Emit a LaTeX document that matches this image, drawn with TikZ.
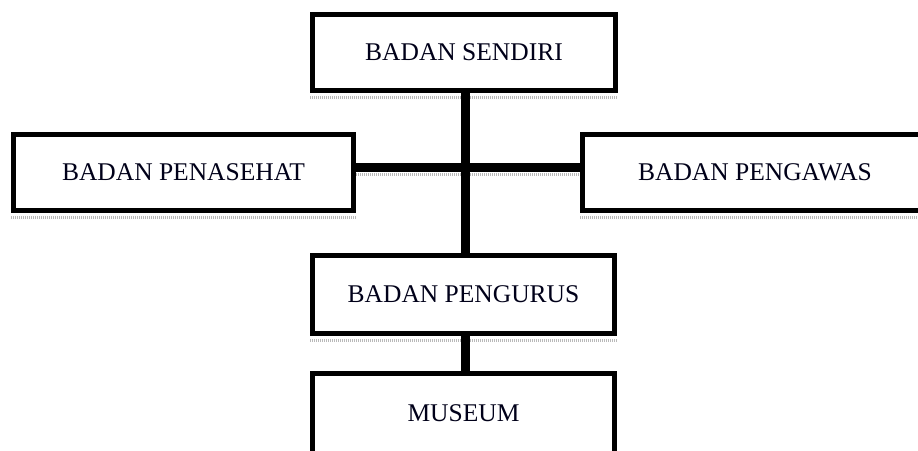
\documentclass[tikz,border=0pt]{standalone}
\usepackage{fontspec}
\setmainfont{Liberation Serif}
\begin{document}
\begin{tikzpicture}[x=1pt,y=1pt,
  orgbox/.style={draw=black, line width=5pt, fill=white, inner sep=0pt,
    font=\fontsize{25.5}{30}\selectfont, text=black!90!blue},
  link/.style={line width=9pt, draw=black},
  shade/.style={draw=gray!55, line width=3pt, dash pattern=on 1pt off 1pt}]
  \useasboundingbox (0,0) rectangle (918,450);

  % boxes of the organisation chart
  \node[orgbox, minimum width=303pt, minimum height=76pt] (sendiri) at (464,397.5) {BADAN SENDIRI};
  \node[orgbox, minimum width=340pt, minimum height=76pt] (penasehat) at (183.5,277.5) {BADAN PENASEHAT};
  \node[orgbox, minimum width=345pt, minimum height=76pt] (pengawas) at (755,277.5) {BADAN PENGAWAS};
  \node[orgbox, minimum width=302pt, minimum height=78pt] (pengurus) at (463.5,155.5) {BADAN PENGURUS};
  \node[orgbox, minimum width=302pt, minimum height=80pt] (museum) at (463.5,36.5) {MUSEUM};

  % soft grey strips under the lower edges
  \draw[shade] ([yshift=-5pt]sendiri.south west) -- ([yshift=-5pt]sendiri.south east);
  \draw[shade] ([yshift=-5pt]penasehat.south west) -- ([yshift=-5pt]penasehat.south east);
  \draw[shade] ([yshift=-5pt]pengawas.south west) -- ([yshift=-5pt]pengawas.south east);
  \draw[shade] ([yshift=-5pt]pengurus.south west) -- ([yshift=-5pt]pengurus.south east);

  % connectors
  \coordinate (hub) at (465,282.5);
  \draw[shade] ([yshift=-7pt]penasehat.east |- hub) -- ([yshift=-7pt]pengawas.west |- hub);
  \draw[link] (penasehat.east |- hub) -- (pengawas.west |- hub);
  \draw[link] (sendiri.south -| hub) -- (pengurus.north -| hub);
  \draw[link] (pengurus.south -| hub) -- (museum.north -| hub);
\end{tikzpicture}
\end{document}
